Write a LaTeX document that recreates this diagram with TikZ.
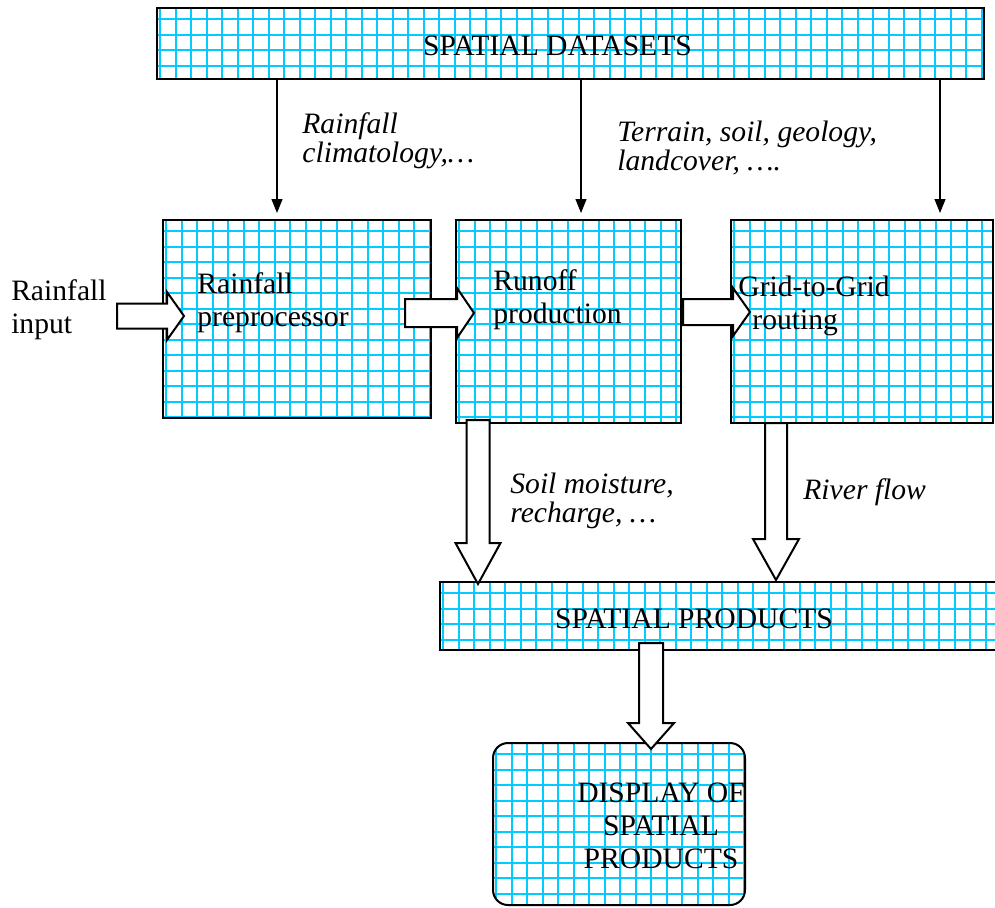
\documentclass[tikz,border=0pt]{standalone}
\usepackage{fontspec}
\setmainfont{Liberation Serif}
\usepackage{tikz}
\usetikzlibrary{
  arrows.meta,
  positioning,
  calc
}
\definecolor{gridcyan}{RGB}{0,204,255}
% hollow block arrows: start, tip, shaft half width, head half width, head length
\newcommand{\fatright}[5]{%
  \draw[blockarrow] let \p1=(#1), \p2=(#2) in
    (\x1,\y1+#3) -- (\x2-#5,\y1+#3) -- (\x2-#5,\y1+#4) -- (\x2,\y1)
    -- (\x2-#5,\y1-#4) -- (\x2-#5,\y1-#3) -- (\x1,\y1-#3) -- cycle;}
\newcommand{\fatdown}[5]{%
  \draw[blockarrow] let \p1=(#1), \p2=(#2) in
    (\x1-#3,\y1) -- (\x1-#3,\y2+#5) -- (\x1-#4,\y2+#5) -- (\x1,\y2)
    -- (\x1+#4,\y2+#5) -- (\x1+#3,\y2+#5) -- (\x1+#3,\y1) -- cycle;}

\begin{document}
\begin{tikzpicture}[
  font=\fontsize{14.8}{16.5}\selectfont,
  gridline/.style={draw=gridcyan, line width=1pt},
  box/.style={draw, line width=1pt, inner sep=0pt, outer sep=0pt, anchor=north west,
    path picture={
      \foreach \k in {0,...,56}{
        \draw[gridline] ([xshift=1.5pt+\k*7.75pt]path picture bounding box.south west)
          -- ([xshift=1.5pt+\k*7.75pt]path picture bounding box.north west);
        \draw[gridline] ([yshift=-5.5pt-\k*7.75pt]path picture bounding box.north west)
          -- ([yshift=-5.5pt-\k*7.75pt]path picture bounding box.north east);
      }}},
  boxtext/.style={align=left, inner sep=0pt},
  note/.style={align=left, inner sep=0pt, font=\fontsize{14.8}{14.5}\selectfont\itshape},
  feed/.style={-{Triangle[length=7pt,width=5.5pt]}, line width=0.6pt},
  blockarrow/.style={draw, fill=white, line width=1pt, line join=miter}
]
\useasboundingbox (0,0) rectangle (497.5pt,-453.5pt);

% Top: spatial datasets
\node[box, minimum width=413.5pt, minimum height=35.5pt] (data) at (78.5pt,-4pt) {};

% Model chain
\node[box, minimum width=134pt, minimum height=99pt,
  below right=70.5pt and 3pt of data.south west] (prep) {};
\node[box, minimum width=112.5pt, minimum height=101.5pt,
  right=12.5pt of prep.north east, anchor=north west] (runoff) {};
\node[box, minimum width=131pt, minimum height=101.5pt,
  right=25pt of runoff.north east, anchor=north west] (g2g) {};

% Products and display
\node[box, minimum width=280pt, minimum height=34pt,
  below right=79.5pt and -8pt of runoff.south west] (prod) {};
\node[box, rounded corners=7.5pt, minimum width=126pt, minimum height=81pt,
  below right=46.5pt and 26.5pt of prod.south west] (disp) {};

% Dataset feeds
\coordinate (c1) at ([xshift=60pt]data.south west);
\coordinate (c2) at ([xshift=212pt]data.south west);
\coordinate (c3) at ([xshift=391.5pt]data.south west);
\draw[feed, shorten >=3.5pt] (c1) -- (c1 |- prep.north);
\draw[feed, shorten >=3.5pt] (c2) -- (c2 |- runoff.north);
\draw[feed, shorten >=3.5pt] (c3) -- (c3 |- g2g.north);
\node[note, below right=16.5pt and 12.5pt of c1] (clim) {Rainfall\\climatology,…};
\node[note, below right=21pt and 18pt of c2] (terrain) {Terrain, soil, geology,\\landcover, ….};

% Horizontal flow
\coordinate (in1) at ([xshift=-23pt,yshift=1.5pt]prep.west);
\coordinate (in2) at ([xshift=10.5pt,yshift=1.5pt]prep.west);
\coordinate (pr1) at ([xshift=-13pt,yshift=3pt]prep.east);
\coordinate (pr2) at ([xshift=9pt,yshift=4.25pt]runoff.west);
\coordinate (ru1) at ([xshift=1pt,yshift=4.75pt]runoff.east);
\coordinate (ru2) at ([xshift=9.5pt,yshift=4.75pt]g2g.west);
\fatright{in1}{in2}{6.25pt}{12pt}{8.5pt}
\fatright{pr1}{pr2}{7pt}{12.5pt}{8.5pt}
\fatright{ru1}{ru2}{6.5pt}{12pt}{8.5pt}
\node[boxtext, left=5pt of in1, yshift=3pt] (input) {Rainfall\\input};

% Outputs
\coordinate (sm1) at ([xshift=11pt,yshift=1.5pt]runoff.south west);
\coordinate (sm2) at ($(sm1 |- prod.north)+(0,-1pt)$);
\coordinate (rf1) at ([xshift=22.5pt]g2g.south west);
\coordinate (rf2) at ($(rf1 |- prod.north)+(0,1pt)$);
\coordinate (pd1) at ([xshift=105.5pt,yshift=3.5pt]prod.south west);
\coordinate (pd2) at ($(pd1 |- disp.north)+(0,-3pt)$);
\fatdown{sm1}{sm2}{5.75pt}{11.25pt}{20.5pt}
\fatdown{rf1}{rf2}{5.5pt}{11.5pt}{20.5pt}
\fatdown{pd1}{pd2}{6pt}{11.5pt}{13pt}
\node[note, below right=26.5pt and 16pt of sm1] (soil) {Soil moisture,\\recharge, …};
\node[note, below right=27.5pt and 13.5pt of rf1] (river) {River flow};

% Box texts
\node[boxtext] (data-txt) at ([xshift=-6.5pt,yshift=-1pt]data.center) {SPATIAL DATASETS};
\node[boxtext, right=17pt of prep.west, yshift=8pt] (prep-txt) {Rainfall\\preprocessor};
\node[boxtext, right=18.5pt of runoff.west, yshift=11pt] (runoff-txt) {Runoff\\production};
\node[boxtext, right=3.5pt of g2g.west, yshift=7.75pt] (g2g-txt) {Grid-to-Grid\\\hspace*{7pt}routing};
\node[boxtext] (prod-txt) at ([xshift=127pt,yshift=-1.3pt]prod.west) {SPATIAL PRODUCTS};
\node[boxtext, align=center] (disp-txt) at ([xshift=21pt,yshift=-1pt]disp.center)
  {DISPLAY OF\\SPATIAL\\PRODUCTS};

\end{tikzpicture}
\end{document}
